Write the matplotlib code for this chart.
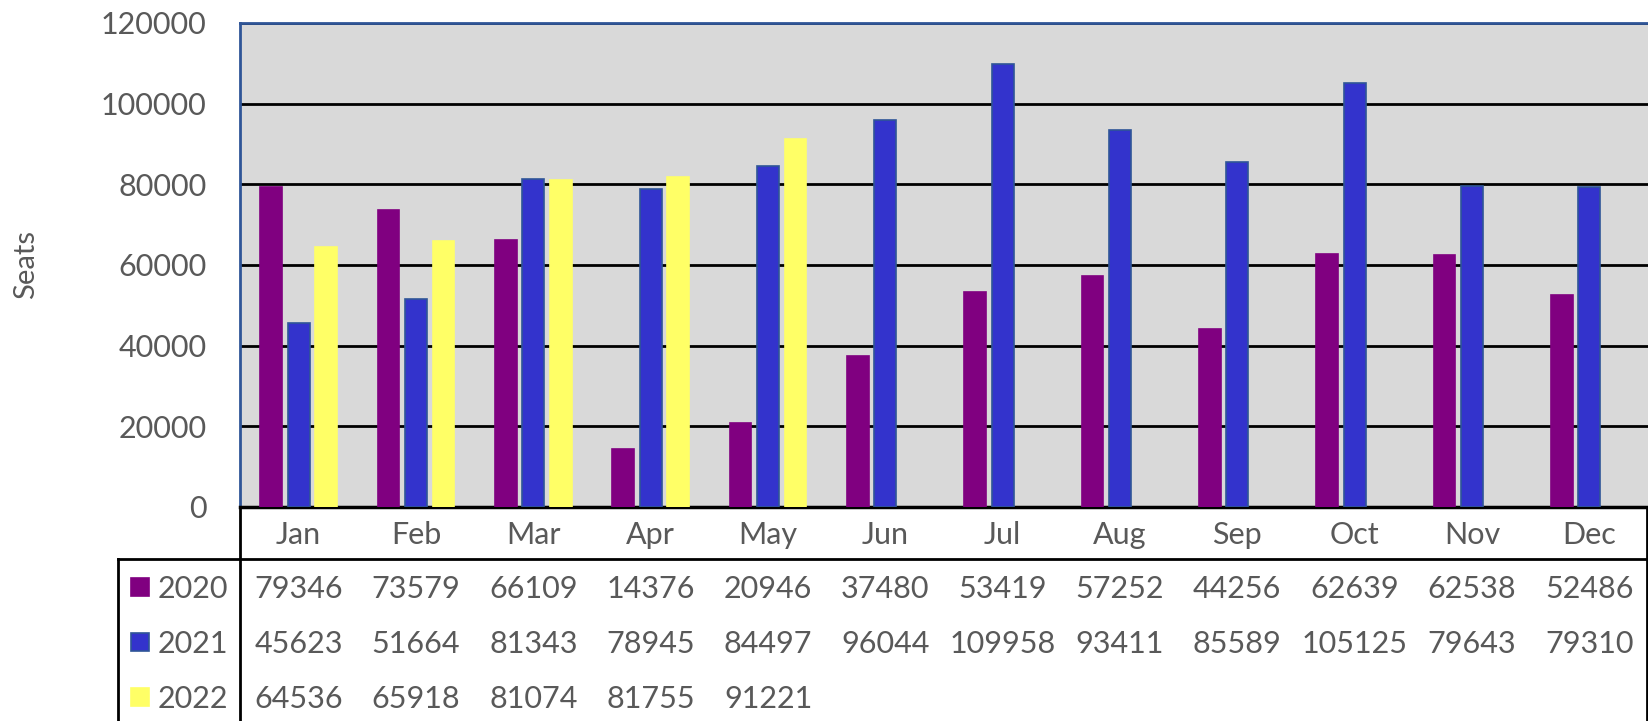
import numpy as np
import matplotlib.pyplot as plt
from matplotlib.transforms import blended_transform_factory

months = ["Jan", "Feb", "Mar", "Apr", "May", "Jun", "Jul", "Aug", "Sep", "Oct", "Nov", "Dec"]
years = ["2020", "2021", "2022"]
seats_2020 = [79346, 73579, 66109, 14376, 20946, 37480, 53419, 57252, 44256, 62639, 62538, 52486]
seats_2021 = [45623, 51664, 81343, 78945, 84497, 96044, 109958, 93411, 85589, 105125, 79643, 79310]
seats_2022 = [64536, 65918, 81074, 81755, 91221]

colors = ["#800080", "#3333CC", "#FFFF66"]
edges = ["#800080", "#2F5597", "#FFFF66"]
txt_col = "#595959"
fs = 22

plt.rcParams['font.family'] = ['Lato', 'DejaVu Sans']

fig = plt.figure(figsize=(16.48, 7.21), dpi=100)
ax = fig.add_axes([240 / 1648, 1 - 507 / 721, 1408 / 1648, 484 / 721])
ax.set_facecolor("#D9D9D9")

series = [seats_2020, seats_2021, seats_2022]
w = 0.185
offs = [-0.235, 0, 0.235]
for k, vals in enumerate(series):
    x = np.arange(len(vals))
    ax.bar(x + offs[k], vals, width=w, color=colors[k], edgecolor=edges[k],
           linewidth=1.2, zorder=3)

ax.set_xlim(-0.5, 11.5)
ax.set_ylim(0, 120000)
ax.set_yticks(np.arange(0, 120001, 20000))
ax.set_yticklabels([str(v) for v in range(0, 120001, 20000)], fontsize=fs, color=txt_col)
ax.tick_params(axis='y', length=0, pad=24)
ax.set_xticks([])
ax.grid(axis='y', color='black', linewidth=2, zorder=1)

for s in ["left", "top"]:
    ax.spines[s].set_color("#2F5597")
    ax.spines[s].set_linewidth(2)
ax.spines["right"].set_visible(False)
ax.spines["bottom"].set_color("black")
ax.spines["bottom"].set_linewidth(2.5)

fig.text(26 / 1648, 1 - 264 / 721, "Seats", rotation=90, fontsize=21,
         color=txt_col, ha='center', va='center')

# data table below the plot
tr = blended_transform_factory(ax.transData, ax.transAxes)
px = 1 / 484
for i, m in enumerate(months):
    ax.text(i, -28 * px, m, transform=tr, ha='center', va='center',
            fontsize=fs, color=txt_col, clip_on=False)

row_px = [589, 644, 699]
for k, vals in enumerate(series):
    for i, v in enumerate(vals):
        ax.text(i, -(row_px[k] - 507) * px, str(v), transform=tr, ha='center',
                va='center', fontsize=fs, color=txt_col, clip_on=False)

# row headers with legend keys
for k, yr in enumerate(years):
    yc = 1 - (row_px[k] - 2) / 721
    fig.patches.append(plt.Rectangle((131 / 1648, yc - 9 / 721), 18 / 1648, 18 / 721,
                                     transform=fig.transFigure, facecolor=colors[k],
                                     edgecolor=edges[k], linewidth=1.2))
    fig.text(158 / 1648, 1 - row_px[k] / 721, yr, fontsize=fs, color=txt_col,
             ha='left', va='center')

# table lines
def hline(y, x0, x1):
    fig.add_artist(plt.Line2D([x0 / 1648, x1 / 1648], [1 - y / 721, 1 - y / 721],
                              color='black', linewidth=2))

def vline(x, y0, y1):
    fig.add_artist(plt.Line2D([x / 1648, x / 1648], [1 - y0 / 721, 1 - y1 / 721],
                              color='black', linewidth=2))

hline(559, 118, 1648)
vline(118, 559, 721)
vline(240, 507, 721)
vline(1647, 507, 721)

fig.savefig("out.png", dpi=100)
